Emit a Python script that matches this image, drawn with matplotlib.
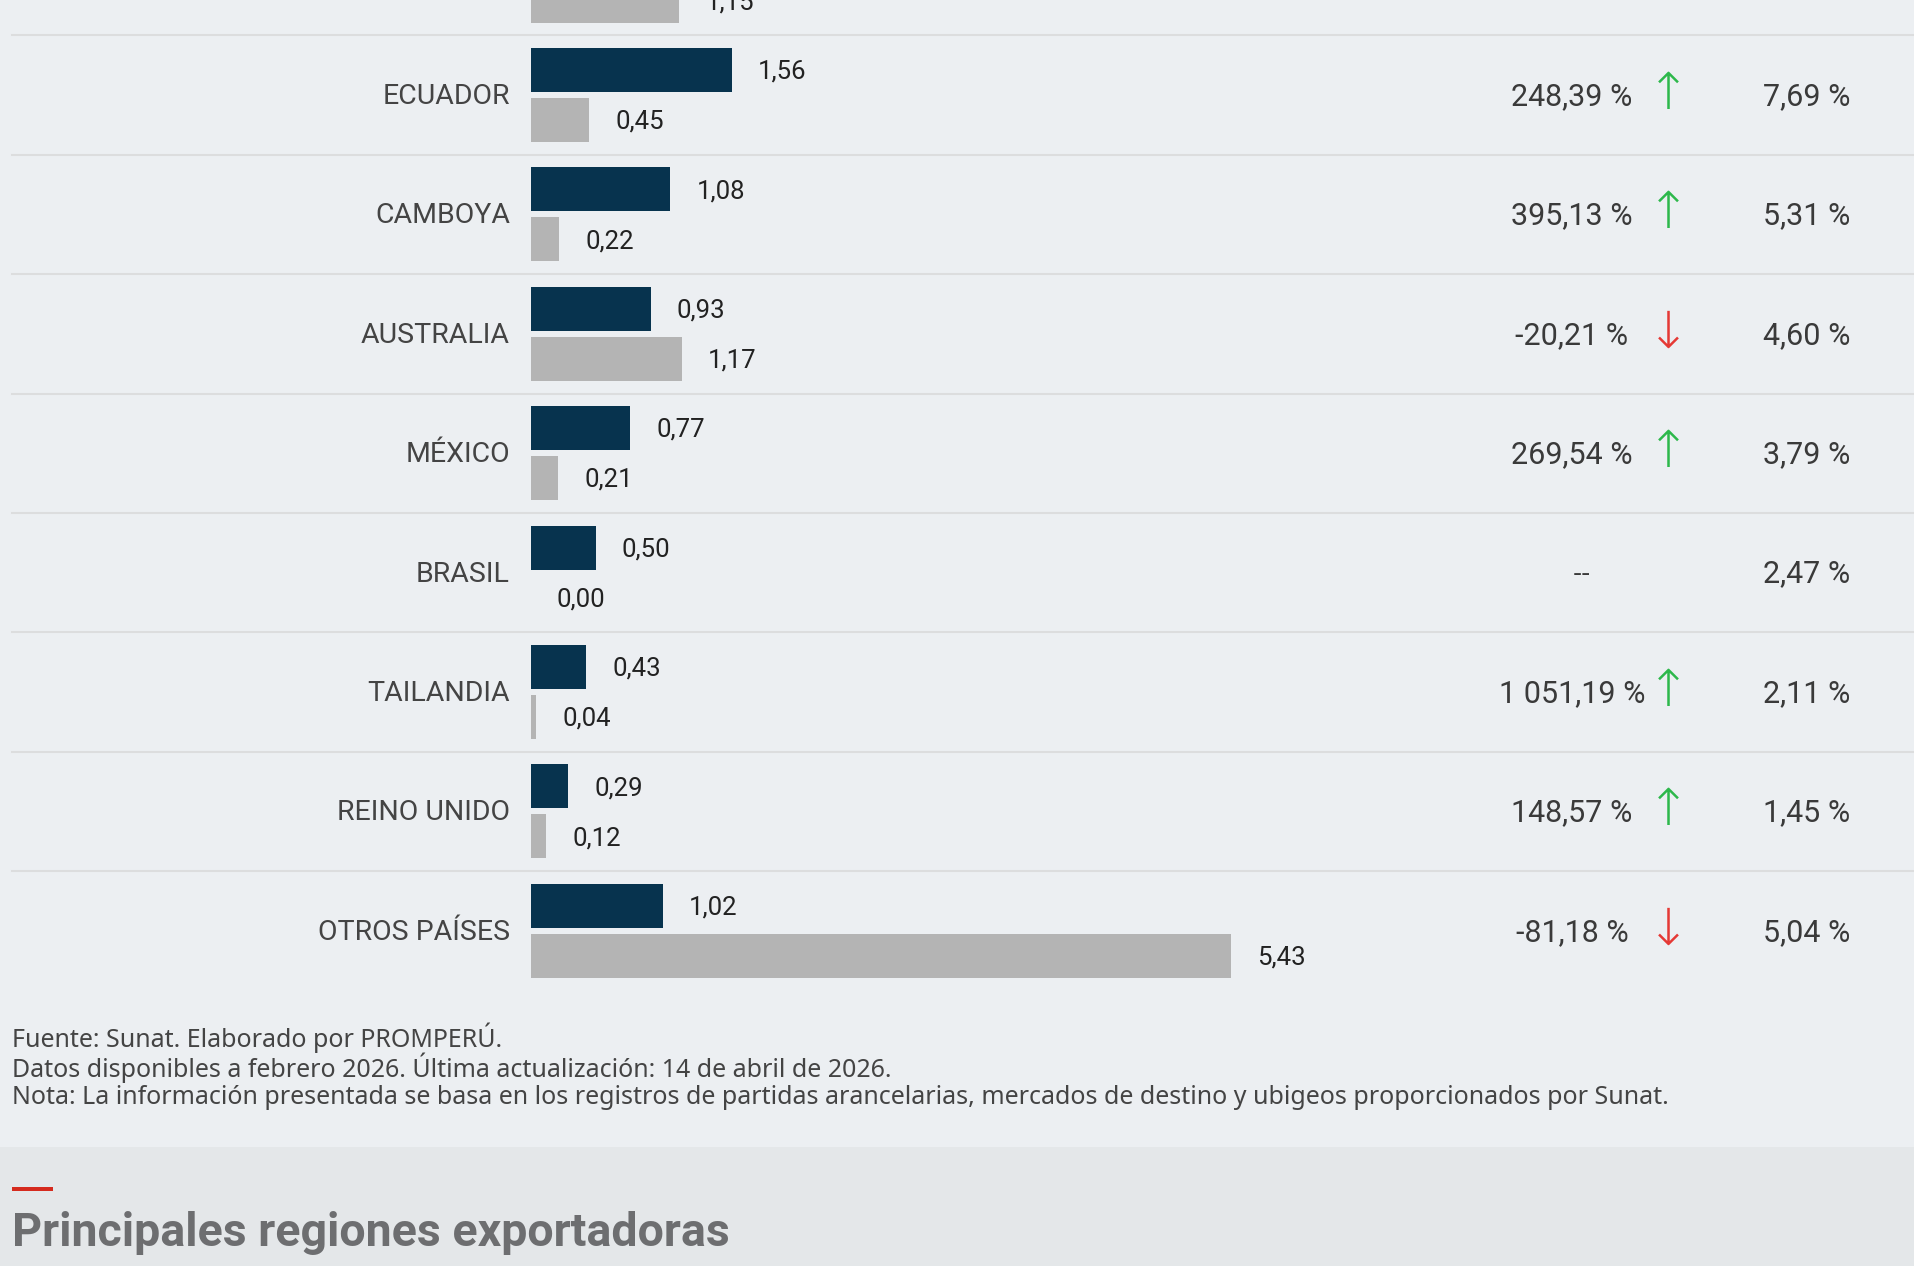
#!/usr/bin/env python3
# -*- coding: utf-8 -*-
"""Exportaciones por mercado de destino: barras 2026 vs 2025, variación y participación."""

import matplotlib
matplotlib.use("Agg")
import matplotlib.pyplot as plt
import matplotlib.transforms as mtransforms
from matplotlib.patches import Rectangle

# --- datos (millones US$) ---
countries = ["ECUADOR", "CAMBOYA", "AUSTRALIA", "MÉXICO", "BRASIL",
             "TAILANDIA", "REINO UNIDO", "OTROS PAÍSES"]
val_2026 = [1.56, 1.08, 0.93, 0.77, 0.50, 0.43, 0.29, 1.02]
val_2025 = [0.45, 0.22, 1.17, 0.21, 0.00, 0.04, 0.12, 5.43]
variation = [248.39, 395.13, -20.21, 269.54, None, 1051.19, 148.57, -81.18]
share = [7.69, 5.31, 4.60, 3.79, 2.47, 2.11, 1.45, 5.04]
# fila anterior, cortada en el borde superior (solo se ve la barra 2025)
prev_2025 = 1.15

footer = [
    "Fuente: Sunat. Elaborado por PROMPERÚ.",
    "Datos disponibles a febrero 2026. Última actualización: 14 de abril de 2026.",
    "Nota: La información presentada se basa en los registros de partidas arancelarias, "
    "mercados de destino y ubigeos proporcionados por Sunat.",
]
next_title = "Principales regiones exportadoras"

# --- estilo ---
BG = "#ECEFF2"
BAND = "#E4E7E9"
DARK = "#07334E"
GRAY = "#B4B4B4"
SEP = "#DCDDDE"
TXT = "#3A3A3A"
GREEN = "#2DB84B"
RED = "#E53935"
FONT = ["Roboto", "DejaVu Sans"]
FOOT_FONT = ["Noto Sans", "DejaVu Sans"]

W, H = 1915, 1266
X0, UNIT = 531, 129.0          # px del eje cero y px por unidad
ROW0, ROWH = 95, 119.4         # px del centro de la primera fila y alto de fila
BAR_H = 44 / ROWH
OFF = 25 / ROWH
DY_TXT = 0.012                 # ajuste vertical de los textos de fila
DY_VAL = 0.015


def es_num(v, dec=2):
    s = f"{v:,.{dec}f}"
    return s.replace(",", " ").replace(".", ",")


def px_x(p):
    return p / W


fig = plt.figure(figsize=(W / 100, H / 100), dpi=100, facecolor=BG)
ax = fig.add_axes([0, 0, 1, 1])
ax.set_facecolor(BG)
ax.set_xlim(-X0 / UNIT, (W - X0) / UNIT)
ax.set_ylim((H - ROW0) / ROWH, -ROW0 / ROWH)
ax.axis("off")

trans = mtransforms.blended_transform_factory(fig.transFigure, ax.transData)

rows = list(range(len(countries)))

# separadores
for i in range(len(countries)):
    ax.axhline(i - 0.5, xmin=px_x(12), xmax=1, color=SEP, lw=1.5, zorder=1)

# barras
ax.barh([r - OFF for r in rows], val_2026, height=BAR_H, left=0, color=DARK, zorder=2)
ax.barh([r + OFF for r in rows], val_2025, height=BAR_H, left=0, color=GRAY, zorder=2)
ax.barh([-1 + OFF], [prev_2025], height=BAR_H, color=GRAY, zorder=2)

lab_off = 26 / UNIT
ax.text(prev_2025 + lab_off, -1 + OFF + DY_VAL, es_num(prev_2025), ha="left", va="center",
        fontsize=18.5, color="#222222", family=FONT)

for r, name, a, b, v, s in zip(rows, countries, val_2026, val_2025, variation, share):
    y = r + DY_TXT
    ax.text(px_x(510), y, name, transform=trans, ha="right", va="center",
            fontsize=20.5, color="#444444", family=FONT)
    ax.text(a + lab_off, r - OFF + DY_VAL, es_num(a), ha="left", va="center",
            fontsize=18.5, color="#222222", family=FONT)
    ax.text(b + lab_off, r + OFF + DY_VAL, es_num(b), ha="left", va="center",
            fontsize=18.5, color="#222222", family=FONT)

    if v is None:
        ax.text(px_x(1582), y, "--", transform=trans, ha="center", va="center",
                fontsize=18, color=TXT, family=["DejaVu Sans"])
    else:
        ax.text(px_x(1572), y, es_num(v) + " %", transform=trans, ha="center",
                va="center", fontsize=22, color=TXT, family=FONT)
        up = v > 0
        ax.text(px_x(1668), r, "↑" if up else "↓", transform=trans, ha="center",
                va="center", fontsize=37, color=GREEN if up else RED, family=FONT,
                fontweight="light")

    ax.text(px_x(1807), y, es_num(s) + " %", transform=trans, ha="center",
            va="center", fontsize=22, color=TXT, family=FONT)

# notas al pie
for k, line in enumerate(footer):
    fig.text(px_x(12), 1 - (1038 + 29.5 * k) / H, line, ha="left", va="center",
             fontsize=18, color="#444444", family=FOOT_FONT)

# franja de la siguiente sección
fig.patches.append(Rectangle((0, 0), 1, (H - 1147) / H, transform=fig.transFigure,
                             facecolor=BAND, edgecolor="none", zorder=0))
fig.patches.append(Rectangle((px_x(12), (H - 1191) / H), 41 / W, 4 / H,
                             transform=fig.transFigure, facecolor="#D52B1E",
                             edgecolor="none", zorder=1))
fig.text(px_x(12), (H - 1246) / H, next_title, ha="left", va="baseline",
         fontsize=33.5, fontweight="bold", color="#6D6E70",
         family=["Liberation Sans Narrow", "Roboto", "DejaVu Sans"])

fig.savefig("out.png", dpi=100, facecolor=BG)
plt.close(fig)
